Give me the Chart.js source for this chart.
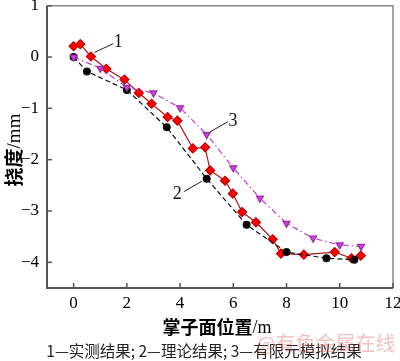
<!DOCTYPE html>
<html>
<head>
<meta charset="utf-8">
<script src="https://cdn.jsdelivr.net/npm/chart.js@4/dist/chart.umd.min.js"></script>
<style>
  html, body { margin: 0; padding: 0; background: #fff; }
  #wrap { width: 400px; height: 361px; }
</style>
</head>
<body>
<div id="wrap"><canvas id="chart1"></canvas></div>
<script>
// 1 - measured
var measuredX = [0, 0.25, 0.65, 1.23, 1.91, 2.45, 2.93, 3.53, 3.9, 4.48, 4.94, 5.13, 5.69, 5.98, 6.33, 6.85, 7.48, 7.79, 8.65, 9.81, 10.44, 10.79];
var measuredY = [0.21, 0.25, 0.01, -0.23, -0.44, -0.70, -0.91, -1.17, -1.24, -1.78, -1.76, -2.21, -2.41, -2.66, -3.02, -3.22, -3.55, -3.83, -3.85, -3.80, -3.92, -3.87];
// 2 - theory
var theoryX = [0, 0.5, 2, 3.5, 5, 6.5, 8, 9.5, 10.55];
var theoryY = [0, -0.28, -0.64, -1.37, -2.37, -3.27, -3.80, -3.92, -3.95];
// 3 - FEM simulation
var femX = [0, 1, 2, 3, 4, 5, 6, 7, 8, 9, 10, 10.8];
var femY = [0, -0.22, -0.59, -0.70, -0.99, -1.51, -2.16, -2.75, -3.24, -3.53, -3.66, -3.69];

var xTicks = [0, 2, 4, 6, 8, 10, 12];
var yTicks = [-4, -3, -2, -1, 0, 1];

// curve number labels: [text, labelX, labelY, lineFromX, lineFromY, lineToX, lineToY]
var curveLabels = [
    ["1", 1.68, 0.28, 0.78, 0.09, 1.49, 0.26],
    ["3", 5.99, -1.25, 5.12, -1.46, 5.8, -1.26],
    ["2", 3.89, -2.68, 4.82, -2.42, 4.15, -2.62]
];

function pts(xs, ys) {
    return xs.map(function (x, i) { return { x: x, y: ys[i] }; });
}
function fmt(v) {
    return v < 0 ? "\u2212" + Math.abs(v) : String(v);
}

var framePlugin = {
    id: 'frame',
    afterDraw: function (chart) {
        var ctx = chart.ctx, a = chart.chartArea;
        var sx = chart.scales.x, sy = chart.scales.y;
        ctx.save();
        // box
        ctx.strokeStyle = '#8a8a8a';
        ctx.lineWidth = 1.5;
        ctx.beginPath();
        ctx.moveTo(a.left, a.top);
        ctx.lineTo(a.right, a.top);
        ctx.lineTo(a.right, a.bottom);
        ctx.stroke();
        ctx.strokeStyle = '#555';
        ctx.lineWidth = 2;
        ctx.beginPath();
        ctx.moveTo(a.left, a.top);
        ctx.lineTo(a.left, a.bottom);
        ctx.lineTo(a.right, a.bottom);
        ctx.stroke();
        // inside ticks
        ctx.lineWidth = 1.5;
        xTicks.forEach(function (v) {
            var px = sx.getPixelForValue(v);
            ctx.beginPath(); ctx.moveTo(px, a.bottom); ctx.lineTo(px, a.bottom - 5); ctx.stroke();
        });
        yTicks.forEach(function (v) {
            var py = sy.getPixelForValue(v);
            ctx.beginPath(); ctx.moveTo(a.left, py); ctx.lineTo(a.left + 5, py); ctx.stroke();
        });
        // curve labels
        ctx.strokeStyle = '#222';
        ctx.lineWidth = 1;
        ctx.fillStyle = '#111';
        ctx.font = '18px "Liberation Serif"';
        ctx.textAlign = 'center';
        ctx.textBaseline = 'middle';
        curveLabels.forEach(function (c) {
            ctx.beginPath();
            ctx.moveTo(sx.getPixelForValue(c[3]), sy.getPixelForValue(c[4]));
            ctx.lineTo(sx.getPixelForValue(c[5]), sy.getPixelForValue(c[6]));
            ctx.stroke();
            ctx.fillText(c[0], sx.getPixelForValue(c[1]), sy.getPixelForValue(c[2]));
        });
        // axis titles
        ctx.fillStyle = '#000';
        ctx.textAlign = 'left';
        ctx.font = 'bold 18px "Noto Sans CJK SC"';
        var t1 = '掌子面位置', t2 = '/m';
        var w1 = ctx.measureText(t1).width;
        ctx.font = '18px "Liberation Serif"';
        var w2 = ctx.measureText(t2).width;
        var x0 = 217 - (w1 + w2) / 2;
        ctx.font = 'bold 18px "Noto Sans CJK SC"';
        ctx.fillText(t1, x0, 327);
        ctx.font = '18px "Liberation Serif"';
        ctx.fillText(t2, x0 + w1, 328);

        ctx.save();
        ctx.translate(14, 150);
        ctx.rotate(-Math.PI / 2);
        ctx.font = 'bold 19px "Noto Sans CJK SC"';
        var y1 = '挠度', y2 = '/mm';
        var v1 = ctx.measureText(y1).width;
        ctx.font = '19px "Liberation Serif"';
        var v2 = ctx.measureText(y2).width;
        var y0 = -(v1 + v2) / 2;
        ctx.font = 'bold 19px "Noto Sans CJK SC"';
        ctx.fillText(y1, y0, 0);
        ctx.font = '19px "Liberation Serif"';
        ctx.fillText(y2, y0 + v1, 1);
        ctx.restore();

        // caption
        ctx.font = '15.5px "Noto Sans CJK SC"';
        ctx.fillStyle = '#222';
        ctx.textAlign = 'center';
        ctx.fillText('1—实测结果; 2—理论结果; 3—有限元模拟结果', 204, 351);
        // watermark
        ctx.font = '20px "Noto Sans CJK SC"';
        ctx.fillStyle = 'rgba(225, 90, 90, 0.38)';
        ctx.fillText('@有色金属在线', 326, 343);
        ctx.restore();
    }
};

var ctxChart1 = document.getElementById('chart1').getContext('2d');
var chart1 = new Chart(ctxChart1, {
    type: 'line',
    plugins: [framePlugin],
    data: {
        datasets: [{
            label: '3',
            data: pts(femX, femY),
            borderColor: '#c03cd0',
            backgroundColor: '#cc44dd',
            pointBorderColor: '#9a2aa8',
            borderWidth: 1.2,
            borderDash: [6, 3, 1.5, 3],
            pointStyle: 'triangle',
            pointRotation: 180,
            pointRadius: 4,
            tension: 0
        }, {
            label: '2',
            data: pts(theoryX, theoryY),
            borderColor: '#111',
            backgroundColor: '#000',
            borderWidth: 1.2,
            borderDash: [5, 3],
            pointStyle: 'circle',
            pointRadius: 3.4,
            tension: 0
        }, {
            label: '1',
            data: pts(measuredX, measuredY),
            borderColor: '#b01818',
            backgroundColor: '#ff0000',
            pointBorderColor: '#c00000',
            borderWidth: 1.2,
            pointStyle: 'rectRot',
            pointRadius: 4.5,
            tension: 0
        }]
    },
    options: {
        responsive: true,
        maintainAspectRatio: false,
        animation: false,
        layout: { padding: { top: 5, right: 7, left: 0, bottom: 0 } },
        plugins: {
            legend: { display: false },
            title: { display: false },
            tooltip: { enabled: false }
        },
        scales: {
            x: {
                type: 'linear',
                min: -1,
                max: 12,
                afterBuildTicks: function (s) { s.ticks = xTicks.map(function (v) { return { value: v }; }); },
                afterFit: function (s) { s.height = 73; s.paddingLeft = 0; s.paddingRight = 0; },
                grid: { display: false, drawTicks: false },
                border: { display: false },
                ticks: {
                    padding: 5,
                    color: '#000',
                    font: { family: 'Liberation Serif', size: 17 },
                    callback: function (v) { return fmt(v); }
                }
            },
            y: {
                min: -4.5,
                max: 1,
                afterBuildTicks: function (s) { s.ticks = yTicks.map(function (v) { return { value: v }; }); },
                afterFit: function (s) { s.width = 47; s.paddingTop = 0; s.paddingBottom = 0; },
                grid: { display: false, drawTicks: false },
                border: { display: false },
                ticks: {
                    padding: 8,
                    color: '#000',
                    font: { family: 'Liberation Serif', size: 17 },
                    callback: function (v) { return fmt(v); }
                }
            }
        }
    }
});
</script>
</body>
</html>
